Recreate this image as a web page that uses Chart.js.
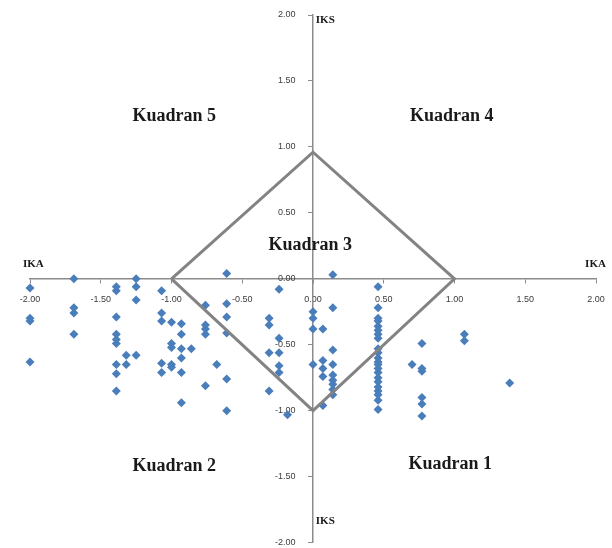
<!DOCTYPE html>
<html>
<head>
<meta charset="utf-8">
<script src="https://cdn.jsdelivr.net/npm/chart.js@4"></script>
<style>
  html, body { margin: 0; padding: 0; background: #fff; }
  #wrap { width: 612px; height: 548px; }
</style>
</head>
<body>
<div id="wrap"><canvas id="chart"></canvas></div>
<script>
const ikaValues = [
    -2.00, -2.00, -2.00, -2.00,
    -1.69, -1.69, -1.69, -1.69,
    -1.39, -1.39, -1.39, -1.39, -1.39, -1.39, -1.39, -1.39, -1.39,
    -1.32, -1.32,
    -1.25, -1.25, -1.25, -1.25,
    -1.07, -1.07, -1.07, -1.07, -1.07,
    -1.00, -1.00, -1.00, -1.00, -1.00,
    -0.93, -0.93, -0.93, -0.93, -0.93, -0.93,
    -0.86,
    -0.76, -0.76, -0.76, -0.76, -0.76,
    -0.68,
    -0.61, -0.61, -0.61, -0.61, -0.61, -0.61,
    -0.31, -0.31, -0.31, -0.31,
    -0.24, -0.24, -0.24, -0.24, -0.24,
    -0.18,
    0.00, 0.00, 0.00, 0.00,
    0.07, 0.07, 0.07, 0.07, 0.07,
    0.14, 0.14, 0.14, 0.14, 0.14, 0.14, 0.14, 0.14, 0.14,
    0.46, 0.46, 0.46, 0.46, 0.46, 0.46, 0.46, 0.46, 0.46, 0.46, 0.46,
    0.46, 0.46, 0.46, 0.46, 0.46, 0.46, 0.46, 0.46, 0.46, 0.46, 0.46,
    0.70,
    0.77, 0.77, 0.77, 0.77, 0.77, 0.77,
    1.07, 1.07,
    1.39
];
const iksValues = [
    -0.07, -0.30, -0.32, -0.63,
    0.00, -0.22, -0.26, -0.42,
    -0.06, -0.09, -0.29, -0.42, -0.46, -0.49, -0.65, -0.72, -0.85,
    -0.58, -0.65,
    0.00, -0.06, -0.16, -0.58,
    -0.09, -0.26, -0.32, -0.64, -0.71,
    -0.33, -0.49, -0.52, -0.65, -0.67,
    -0.34, -0.42, -0.53, -0.60, -0.71, -0.94,
    -0.53,
    -0.20, -0.35, -0.38, -0.42, -0.81,
    -0.65,
    0.04, -0.19, -0.29, -0.41, -0.76, -1.00,
    -0.30, -0.35, -0.56, -0.85,
    -0.08, -0.45, -0.56, -0.66, -0.71,
    -1.03,
    -0.25, -0.30, -0.38, -0.65,
    -0.38, -0.62, -0.68, -0.74, -0.96,
    0.03, -0.22, -0.54, -0.65, -0.73, -0.77, -0.80, -0.84, -0.88,
    -0.06, -0.22, -0.30, -0.32, -0.36, -0.39, -0.42, -0.45, -0.53, -0.56, -0.60,
    -0.63, -0.65, -0.68, -0.71, -0.75, -0.78, -0.82, -0.85, -0.88, -0.92, -0.99,
    -0.65,
    -0.49, -0.68, -0.70, -0.90, -0.95, -1.04,
    -0.42, -0.47,
    -0.79
];

// Kuadran 3 border (diamond)
const borderX = [-1, 0, 1, 0, -1];
const borderY = [0, 0.96, 0, -1, 0];

const tickValues = [-2, -1.5, -1, -0.5, 0, 0.5, 1, 1.5, 2];

// quadrant captions and their centres (in data units)
const quadrantNames = ['Kuadran 1', 'Kuadran 2', 'Kuadran 3', 'Kuadran 4', 'Kuadran 5'];
const quadrantX = [0.97, -0.98, -0.02, 0.98, -0.98];
const quadrantY = [-1.41, -1.42, 0.25, 1.23, 1.23];

// axis captions
const axisNames = ['IKA', 'IKA', 'IKS', 'IKS'];
const axisX = [-2.05, 2.07, 0.02, 0.02];
const axisY = [0.11, 0.11, 1.96, -1.84];
const axisAlign = ['left', 'right', 'left', 'left'];

const points = ikaValues.map((x, i) => ({ x: x, y: iksValues[i] }));
const border = borderX.map((x, i) => ({ x: x, y: borderY[i] }));

const captionPlugin = {
    id: 'captions',
    afterDraw(chart) {
        const ctx = chart.ctx;
        const xs = chart.scales.x;
        const ys = chart.scales.y;
        ctx.save();
        ctx.fillStyle = '#1a1a1a';
        ctx.textBaseline = 'middle';
        ctx.textAlign = 'center';
        ctx.font = "bold 18px 'Liberation Serif'";
        quadrantNames.forEach((name, i) => {
            ctx.fillText(name, xs.getPixelForValue(quadrantX[i]), ys.getPixelForValue(quadrantY[i]));
        });
        ctx.font = "bold 11px 'Liberation Serif'";
        axisNames.forEach((name, i) => {
            ctx.textAlign = axisAlign[i];
            ctx.fillText(name, xs.getPixelForValue(axisX[i]), ys.getPixelForValue(axisY[i]));
        });
        ctx.restore();
    }
};

const axisColor = '#8c8c8c';
const tickFont = { family: "'Liberation Sans'", size: 9 };

new Chart(document.getElementById('chart'), {
    type: 'scatter',
    data: {
        datasets: [{
            label: 'Kuadran 3',
            data: border,
            showLine: true,
            borderColor: '#838383',
            borderWidth: 3,
            pointRadius: 0,
            fill: false,
            order: 0
        }, {
            label: 'IKA / IKS',
            data: points,
            pointStyle: 'rectRot',
            pointRadius: 4.5,
            pointBackgroundColor: '#4a7ebb',
            pointBorderColor: '#4a7ebb',
            pointBorderWidth: 0,
            clip: false,
            order: 1
        }]
    },
    options: {
        responsive: true,
        maintainAspectRatio: false,
        animation: false,
        layout: { padding: { left: 30, right: 16, top: 15, bottom: 1 } },
        plugins: {
            legend: { display: false },
            tooltip: { enabled: false }
        },
        scales: {
            x: {
                type: 'linear',
                position: { y: 0 },
                min: -2,
                max: 2,
                afterBuildTicks: (scale) => { scale.ticks = tickValues.map(v => ({ value: v })); },
                ticks: {
                    callback: (v) => v.toFixed(2),
                    font: tickFont,
                    color: '#3c3c3c',
                    padding: 6,
                    maxRotation: 0
                },
                // long tick slot for label spacing, only the first 4px drawn
                grid: {
                    drawOnChartArea: false, drawTicks: true, tickLength: 9, color: axisColor,
                    tickBorderDash: [4, 20]
                },
                border: { color: axisColor, width: 1.5 }
            },
            y: {
                type: 'linear',
                position: { x: 0 },
                min: -2,
                max: 2,
                afterBuildTicks: (scale) => { scale.ticks = tickValues.map(v => ({ value: v })); },
                ticks: {
                    // pad on the right so the labels sit clear of the axis line
                    callback: (v) => v.toFixed(2) + '       ',
                    font: tickFont,
                    color: '#3c3c3c',
                    padding: 0
                },
                grid: { drawOnChartArea: false, drawTicks: true, tickLength: 4, color: axisColor },
                border: { color: axisColor, width: 1.5 }
            }
        }
    },
    plugins: [captionPlugin]
});
</script>
</body>
</html>
